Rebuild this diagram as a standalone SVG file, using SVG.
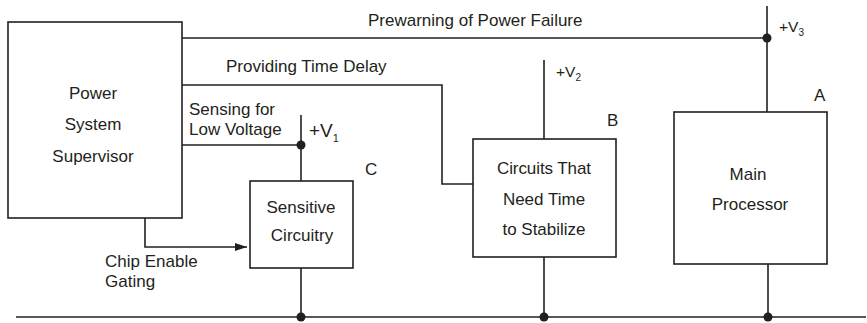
<svg xmlns="http://www.w3.org/2000/svg" width="867" height="323" viewBox="0 0 867 323">
<defs>
<style>
.box{fill:#fff;stroke:#231f20;stroke-width:1.6}
.ln{fill:none;stroke:#231f20;stroke-width:1.6}
.dot{fill:#231f20}
text{font-family:"Liberation Sans",Arial,sans-serif;fill:#231f20;font-size:17px}
.c{text-anchor:middle}
.sub{font-size:11px}
.v{font-size:15.5px}
.vs{font-size:10px}
</style>
<marker id="arr" viewBox="0 0 12 8" refX="12" refY="4" markerWidth="12" markerHeight="8" markerUnits="userSpaceOnUse" orient="auto">
<path d="M0,0 L12,4 L0,8 Z" fill="#231f20"/>
</marker>
</defs>
<rect width="867" height="323" fill="#fff"/>
<g id="connectors">
<path class="ln" d="M182,38 H767"/>
<path class="ln" d="M767,6 V112"/>
<path class="ln" d="M182,85 H442 V184 H473"/>
<path class="ln" d="M544,60 V139"/>
<path class="ln" d="M182,145 H301"/>
<path class="ln" d="M301,115 V181"/>
<path class="ln" d="M145,218 V247 H247" marker-end="url(#arr)"/>
<path class="ln" d="M16,317 H866"/>
<path class="ln" d="M301,268 V317"/>
<path class="ln" d="M544,257 V317"/>
<path class="ln" d="M768,264 V317"/>
<circle class="dot" cx="767" cy="38" r="4.5"/>
<circle class="dot" cx="301" cy="145" r="4.5"/>
<circle class="dot" cx="301" cy="317" r="4.5"/>
<circle class="dot" cx="544" cy="317" r="4.5"/>
<circle class="dot" cx="768" cy="317" r="4.5"/>
<text x="368" y="26">Prewarning of Power Failure</text>
<text x="226" y="72">Providing Time Delay</text>
<text x="189" y="115">Sensing for</text>
<text x="189" y="135">Low Voltage</text>
<text x="105" y="267">Chip Enable</text>
<text x="105" y="287">Gating</text>
<text x="309" y="137" style="font-size:19px">+V<tspan class="sub" dy="5">1</tspan></text>
<text class="v" x="556" y="77">+V<tspan class="vs" dy="4">2</tspan></text>
<text class="v" x="779" y="32">+V<tspan class="vs" dy="4">3</tspan></text>
</g>
<g id="supervisor">
<rect class="box" x="8" y="22" width="174" height="196"/>
<text class="c" x="93" y="99">Power</text>
<text class="c" x="93" y="130">System</text>
<text class="c" x="93" y="162">Supervisor</text>
</g>
<g id="sensitive">
<rect class="box" x="250" y="181" width="103" height="87"/>
<text class="c" x="301" y="213">Sensitive</text>
<text class="c" x="302" y="241">Circuitry</text>
<text x="365" y="175">C</text>
</g>
<g id="stabilize">
<rect class="box" x="473" y="139" width="143" height="118"/>
<text class="c" x="544" y="174" textLength="94" lengthAdjust="spacing">Circuits That</text>
<text class="c" x="544" y="205">Need Time</text>
<text class="c" x="544" y="235">to Stabilize</text>
<text x="607" y="126">B</text>
</g>
<g id="processor">
<rect class="box" x="674" y="112" width="153" height="152"/>
<text class="c" x="748" y="180">Main</text>
<text class="c" x="750" y="210">Processor</text>
<text x="814" y="101">A</text>
</g>
</svg>
